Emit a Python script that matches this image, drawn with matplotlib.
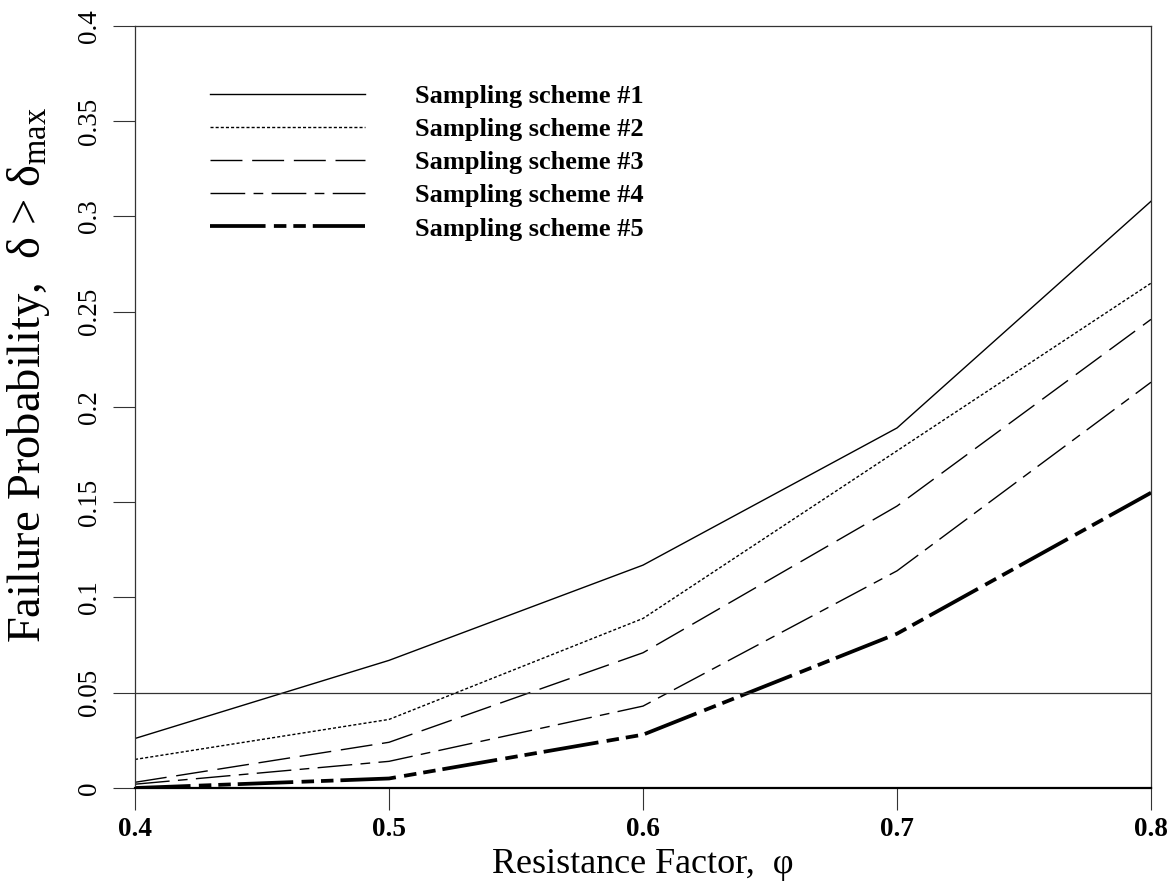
import numpy as np
import matplotlib
matplotlib.use("Agg")
import matplotlib.pyplot as plt

plt.rcParams['font.family'] = ['Liberation Serif', 'DejaVu Serif']
plt.rcParams['lines.scale_dashes'] = False

# resistance factor values and failure probabilities
phi = [0.4, 0.5, 0.6, 0.7, 0.8]
scheme1 = [0.026, 0.067, 0.117, 0.189, 0.308]
scheme2 = [0.015, 0.036, 0.089, 0.177, 0.265]
scheme3 = [0.003, 0.024, 0.071, 0.148, 0.246]
scheme4 = [0.002, 0.014, 0.043, 0.114, 0.213]
scheme5 = [0.000, 0.005, 0.028, 0.081, 0.155]
labels = ["Sampling scheme #1", "Sampling scheme #2", "Sampling scheme #3",
          "Sampling scheme #4", "Sampling scheme #5"]
target = 0.05

xticks = [0.4, 0.5, 0.6, 0.7, 0.8]
yticks = [0, 0.05, 0.1, 0.15, 0.2, 0.25, 0.3, 0.35, 0.4]
ytick_labels = ["0", "0.05", "0.1", "0.15", "0.2", "0.25", "0.3", "0.35", "0.4"]

fig = plt.figure(figsize=(11.7, 8.89), dpi=100)
ax = fig.add_axes([0.1154, 0.1136, 0.8684, 0.8572])

styles = [
    dict(lw=1.0, ls='-'),
    dict(lw=1.0, ls=(0, (2.2, 1.5))),
    dict(lw=1.0, ls=(0, (23, 7))),
    dict(lw=1.0, ls=(0, (25, 6, 7, 6))),
    dict(lw=2.7, ls=(0, (40, 6, 9, 5, 9, 5))),
]
series = [scheme1, scheme2, scheme3, scheme4, scheme5]
for vals, st, lab in zip(series, styles, labels):
    ax.plot(phi, vals, color='black', label=lab, **st)

ax.axhline(target, color='#333333', lw=0.9)

ax.set_xlim(0.4, 0.8)
ax.set_ylim(0, 0.4)
ax.set_xticks(xticks)
ax.set_xticklabels([f"{v:g}" for v in xticks], fontweight='bold', fontsize=19.5)
ax.set_yticks(yticks)
ax.set_yticklabels(ytick_labels, rotation=90, va='center', fontsize=19.5)
ax.tick_params(axis='both', direction='out', length=16, width=0.8, color='#333333')
ax.tick_params(axis='x', pad=5)
ax.tick_params(axis='y', pad=8)
for sp in ax.spines.values():
    sp.set_linewidth(0.9)
    sp.set_color('#333333')
ax.spines['bottom'].set_linewidth(1.6)
ax.spines['bottom'].set_color('black')

ax.set_xlabel("Resistance Factor,  φ", fontsize=26, labelpad=4)
ax.set_ylabel("Failure Probability,  δ > $\\mathregular{δ_{max}}$", fontsize=33.5)
ax.yaxis.set_label_coords(-0.082, 0.542)

leg = ax.legend(loc='upper left', bbox_to_anchor=(0.0504, 0.9546), frameon=False,
                prop={'weight': 'bold', 'size': 19}, handlelength=5.87,
                handletextpad=1.9, labelspacing=0.37)

fig.savefig("out.png", dpi=100, facecolor='white')
